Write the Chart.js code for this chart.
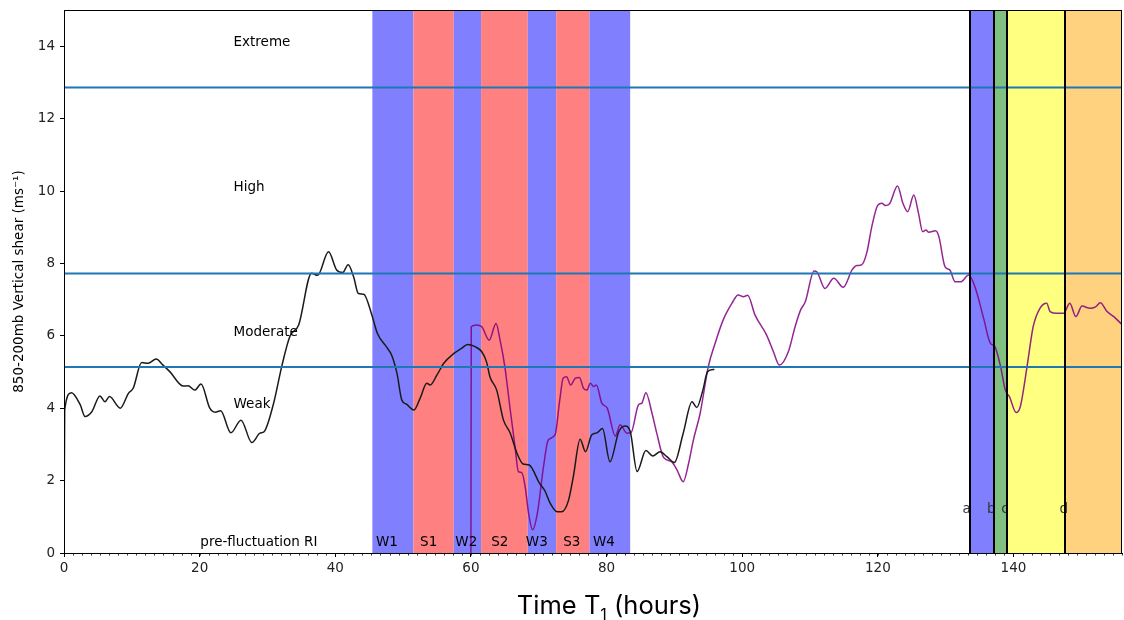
<!DOCTYPE html>
<html>
<head>
<meta charset="utf-8">
<title>850-200mb vertical shear</title>
<script src="https://cdn.jsdelivr.net/npm/chart.js@4.4.1/dist/chart.umd.min.js"></script>
<style>
  html, body { margin: 0; padding: 0; background: #fff; }
  #shear { display: block; }
</style>
</head>
<body>
<canvas id="shear" width="1124" height="620"></canvas>
<script>
// best track shear (black) and the second shear series (purple), hours vs m/s
const blackTime = [0, 0.1, 1.1, 2.4, 3.1, 4.1, 5.3, 6.05, 6.7, 8.3, 9.5, 10.2, 11.45, 12.4, 13.6, 14.6, 15.6, 17.6, 18.3, 19.3,
  20.2, 21.5, 22.3, 23.1, 24.6, 26.1, 27.7, 28.9, 29.5, 30.9, 32.1, 33.3, 34.6, 36.5, 37.4, 39.0, 40.2, 41.1, 41.9, 42.7,
  43.4, 44.2, 45.4, 46.2, 47.6, 48.3, 49.1, 49.8, 50.5, 51.6, 52.5, 53.5, 54.0, 55.0, 56.0, 57.4, 58.6, 59.5, 60.6, 61.6,
  62.3, 62.8, 63.8, 64.8, 65.8, 66.8, 67.7, 68.6, 70.1, 70.9, 71.7, 72.7, 73.4, 74.4, 75.1, 76.1, 76.9, 77.8, 78.6, 79.4,
  80.5, 81.8, 82.7, 83.5, 84.5, 85.8, 86.8, 87.9, 88.9, 90.0, 91.3, 92.6, 93.3, 94.2, 94.9, 95.9];
const blackShear = [0, 3.95, 4.43, 4.09, 3.77, 3.9, 4.34, 4.18, 4.32, 4.0, 4.41, 4.55, 5.26, 5.24, 5.36, 5.19, 5.01, 4.61, 4.62, 4.5,
  4.67, 4.0, 3.89, 3.93, 3.32, 3.67, 3.05, 3.31, 3.35, 4.13, 5.15, 5.98, 6.3, 7.73, 7.67, 8.32, 7.82, 7.75, 7.96, 7.63,
  7.17, 7.15, 6.57, 6.07, 5.68, 5.47, 4.96, 4.23, 4.11, 3.95, 4.27, 4.69, 4.64, 4.92, 5.24, 5.5, 5.65, 5.76, 5.7, 5.56,
  5.28, 4.87, 4.5, 3.67, 3.31, 2.75, 2.46, 2.43, 1.93, 1.72, 1.37, 1.14, 1.14, 1.46, 2.11, 3.14, 2.8, 3.26, 3.32, 3.44,
  2.52, 3.35, 3.51, 3.35, 2.25, 2.83, 2.68, 2.8, 2.66, 2.5, 3.31, 4.18, 4.02, 4.5, 5.01, 5.07];

const purpleTime = [60.0, 60.05, 60.8, 61.6, 62.7, 63.7, 64.3, 65.0, 65.8, 66.5, 67.0, 67.5, 68.0, 68.5, 69.1, 69.8, 70.7, 71.4, 72.4, 73.1,
  73.6, 74.1, 74.7, 75.4, 76.0, 76.6, 77.1, 77.6, 78.1, 78.5, 79.3, 80.1, 81.3, 82.0, 83.0, 83.6, 84.7, 85.2, 85.8, 86.7,
  87.4, 88.4, 89.6, 90.4, 91.3, 92.1, 92.8, 93.8, 95.0, 96.0, 97.2, 98.5, 99.4, 100.2, 100.8, 101.9, 103.6, 104.6, 105.5, 106.8,
  107.8, 108.6, 109.3, 110.6, 111.0, 112.2, 113.5, 114.9, 116.2, 116.9, 117.6, 118.4, 119.1, 120.0, 120.6, 121.1, 121.7, 122.9, 123.7, 124.4,
  125.3, 126.0, 126.6, 127.1, 127.5, 128.5, 129.0, 129.9, 130.6, 131.4, 132.2, 133.4, 134.4, 135.6, 136.6, 137.2, 138.1, 138.8, 139.4, 140.4,
  141.0, 142.0, 142.9, 143.9, 144.9, 145.4, 146.4, 147.4, 148.3, 149.2, 150.1, 151.3, 152.1, 152.8, 153.8, 154.8, 155.9];
const purpleShear = [0, 6.25, 6.3, 6.25, 5.88, 6.34, 5.88, 5.15, 3.95, 2.94, 2.25, 2.22, 1.83, 1.1, 0.64, 1.1, 2.38, 3.12, 3.26, 4.23,
  4.83, 4.87, 4.64, 4.83, 4.85, 4.55, 4.5, 4.69, 4.6, 4.64, 4.14, 4.0, 3.23, 3.54, 3.31, 3.32, 4.09, 4.14, 4.43, 3.86,
  3.31, 2.64, 2.52, 2.29, 1.97, 2.48, 3.12, 3.86, 5.15, 5.79, 6.44, 6.9, 7.13, 7.08, 7.12, 6.57, 6.02, 5.56, 5.19, 5.56,
  6.25, 6.71, 6.94, 7.79, 7.77, 7.31, 7.59, 7.34, 7.82, 7.94, 7.96, 8.32, 9.01, 9.61, 9.66, 9.6, 9.64, 10.14, 9.66, 9.43,
  9.89, 9.38, 8.88, 8.92, 8.86, 8.9, 8.74, 7.91, 7.82, 7.49, 7.49, 7.68, 7.31, 6.48, 5.79, 5.72, 5.15, 4.5, 4.32, 3.88,
  4.04, 5.15, 6.25, 6.76, 6.9, 6.67, 6.62, 6.62, 6.9, 6.53, 6.82, 6.76, 6.8, 6.91, 6.67, 6.53, 6.33];

// shear category thresholds (10, 15, 25 kt)
const shearThresholds = [5.14, 7.72, 12.86];
const categoryNames = ['Weak', 'Moderate', 'High', 'Extreme'];
const categoryLevels = [4, 6, 10, 14];

// weakening / strengthening periods
const periodNames = ['W1', 'S1', 'W2', 'S2', 'W3', 'S3', 'W4'];
const periodStart = [45.47, 51.52, 57.47, 61.5, 68.39, 72.57, 77.48];
const periodEnd = [51.52, 57.47, 61.5, 68.39, 72.57, 77.48, 83.48];
const periodKind = ['W', 'S', 'W', 'S', 'W', 'S', 'W'];

// late stages a-d
const stageNames = ['a', 'b', 'c', 'd'];
const stageStart = [133.53, 137.07, 139.05, 147.64];
const stageEnd = [137.07, 139.05, 147.64, 156];

const xTicks = [0, 20, 40, 60, 80, 100, 120, 140];
const yTicks = [0, 2, 4, 6, 8, 10, 12, 14];

const bandColors = { W: '#8080ff', S: '#ff8080' };
const stageColors = ['#8080ff', '#80c080', '#ffff80', '#ffd280'];
const tickFont = '13.5px "DejaVu Sans"';

function pts(xs, ys) {
    return xs.map((x, i) => ({ x: x, y: ys[i] }));
}

const decor = {
    id: 'decor',
    beforeDatasetsDraw(chart) {
        const { ctx, chartArea, scales } = chart;
        const x = scales.x;
        ctx.save();
        ctx.beginPath();
        ctx.rect(chartArea.left, chartArea.top, chartArea.width, chartArea.height);
        ctx.clip();
        const fillSpan = (a, b, color) => {
            const x0 = x.getPixelForValue(a);
            const x1 = x.getPixelForValue(b);
            ctx.fillStyle = color;
            ctx.fillRect(x0, chartArea.top, x1 - x0, chartArea.height);
        };
        periodStart.forEach((s, i) => fillSpan(s, periodEnd[i], bandColors[periodKind[i]]));
        stageStart.forEach((s, i) => fillSpan(s, stageEnd[i], stageColors[i]));
        ctx.restore();
    },
    afterDatasetsDraw(chart) {
        const { ctx, chartArea, scales } = chart;
        const x = scales.x, y = scales.y;
        ctx.save();
        ctx.fillStyle = '#000';
        ctx.font = tickFont;
        ctx.textBaseline = 'alphabetic';
        ctx.textAlign = 'left';

        categoryNames.forEach((name, i) => {
            ctx.fillText(name, x.getPixelForValue(25), y.getPixelForValue(categoryLevels[i]));
        });
        ctx.fillText('pre-fluctuation RI', x.getPixelForValue(20.1), y.getPixelForValue(0.2));
        const periodLabelX = [46.0, 52.5, 57.7, 63.0, 68.1, 73.6, 78.0];
        periodNames.forEach((name, i) => {
            ctx.fillText(name, x.getPixelForValue(periodLabelX[i]), y.getPixelForValue(0.2));
        });

        // stage letters sit just left of their boundary lines
        ctx.fillStyle = '#333';
        const stageLabelX = [132.5, 136.1, 138.2, 146.8];
        stageNames.forEach((name, i) => {
            ctx.fillText(name, x.getPixelForValue(stageLabelX[i]), y.getPixelForValue(1.1));
        });
        ctx.strokeStyle = '#000';
        ctx.lineWidth = 2;
        stageStart.forEach(s => {
            const px = Math.round(x.getPixelForValue(s));
            ctx.beginPath();
            ctx.moveTo(px, chartArea.top);
            ctx.lineTo(px, chartArea.bottom);
            ctx.stroke();
        });

        // frame
        ctx.lineWidth = 1;
        ctx.strokeStyle = '#000';
        ctx.strokeRect(chartArea.left + 0.5, chartArea.top + 0.5, chartArea.width - 1, chartArea.height);

        // minor ticks on the time axis
        ctx.lineWidth = 0.8;
        for (let t = 0; t <= 156; t += 4 / 3) {
            const px = Math.round(x.getPixelForValue(t)) + 0.5;
            ctx.beginPath();
            ctx.moveTo(px, chartArea.bottom);
            ctx.lineTo(px, chartArea.bottom + 2.5);
            ctx.stroke();
        }

        // axis titles
        ctx.fillStyle = '#000';
        ctx.save();
        ctx.translate(19, (chartArea.top + chartArea.bottom) / 2);
        ctx.rotate(-Math.PI / 2);
        ctx.textAlign = 'center';
        ctx.textBaseline = 'middle';
        ctx.font = tickFont;
        ctx.fillText('850-200mb Vertical shear (ms\u207B\u00B9)', 0, 0);
        ctx.restore();

        const big = '25.5px Inter';
        const small = '16px Inter';
        const parts = [['Time T', big, 0], ['1', small, 6], [' (hours)', big, 0]];
        let total = 0;
        parts.forEach(p => { ctx.font = p[1]; total += ctx.measureText(p[0]).width; });
        let cx = 609 - total / 2;
        ctx.textAlign = 'left';
        ctx.textBaseline = 'alphabetic';
        parts.forEach(p => {
            ctx.font = p[1];
            ctx.fillText(p[0], cx, 614 + p[2]);
            cx += ctx.measureText(p[0]).width;
        });
        ctx.restore();
    }
};

const datasets = [
    {
        label: 'black',
        data: pts(blackTime, blackShear),
        borderColor: '#1a1a1a',
        borderWidth: 1.5,
        cubicInterpolationMode: 'monotone',
        order: 1
    },
    {
        label: 'purple',
        data: pts(purpleTime, purpleShear),
        borderColor: 'rgba(128, 0, 128, 0.85)',
        borderWidth: 1.5,
        cubicInterpolationMode: 'monotone',
        order: 2
    }
];
shearThresholds.forEach((v, i) => {
    datasets.push({
        label: 'threshold ' + i,
        data: [{ x: 0, y: v }, { x: 156, y: v }],
        borderColor: '#1f77b4',
        borderWidth: 2,
        order: 0
    });
});

new Chart(document.getElementById('shear'), {
    type: 'line',
    data: { datasets: datasets },
    plugins: [decor],
    options: {
        responsive: false,
        animation: false,
        devicePixelRatio: 1,
        layout: { padding: { top: 10, right: 2, left: 0, bottom: 0 } },
        elements: { point: { radius: 0 } },
        plugins: { legend: { display: false }, tooltip: { enabled: false } },
        scales: {
            x: {
                type: 'linear',
                min: 0,
                max: 156,
                afterFit: s => { s.height = 67; s.paddingLeft = 0; s.paddingRight = 0; },
                afterBuildTicks: s => { s.ticks = xTicks.map(v => ({ value: v })); },
                grid: { drawOnChartArea: false, tickLength: 4, color: '#000' },
                border: { color: '#000', width: 1 },
                ticks: { font: { family: 'DejaVu Sans', size: 13.5 }, color: '#222', padding: 3, maxRotation: 0 }
            },
            y: {
                min: 0,
                max: 15,
                afterFit: s => { s.width = 64; s.paddingTop = 0; s.paddingBottom = 0; },
                afterBuildTicks: s => { s.ticks = yTicks.map(v => ({ value: v })); },
                grid: { drawOnChartArea: false, tickLength: 4, color: '#000' },
                border: { color: '#000', width: 1 },
                ticks: { font: { family: 'DejaVu Sans', size: 13.5 }, color: '#222', padding: 5 }
            }
        }
    }
});
</script>
</body>
</html>
